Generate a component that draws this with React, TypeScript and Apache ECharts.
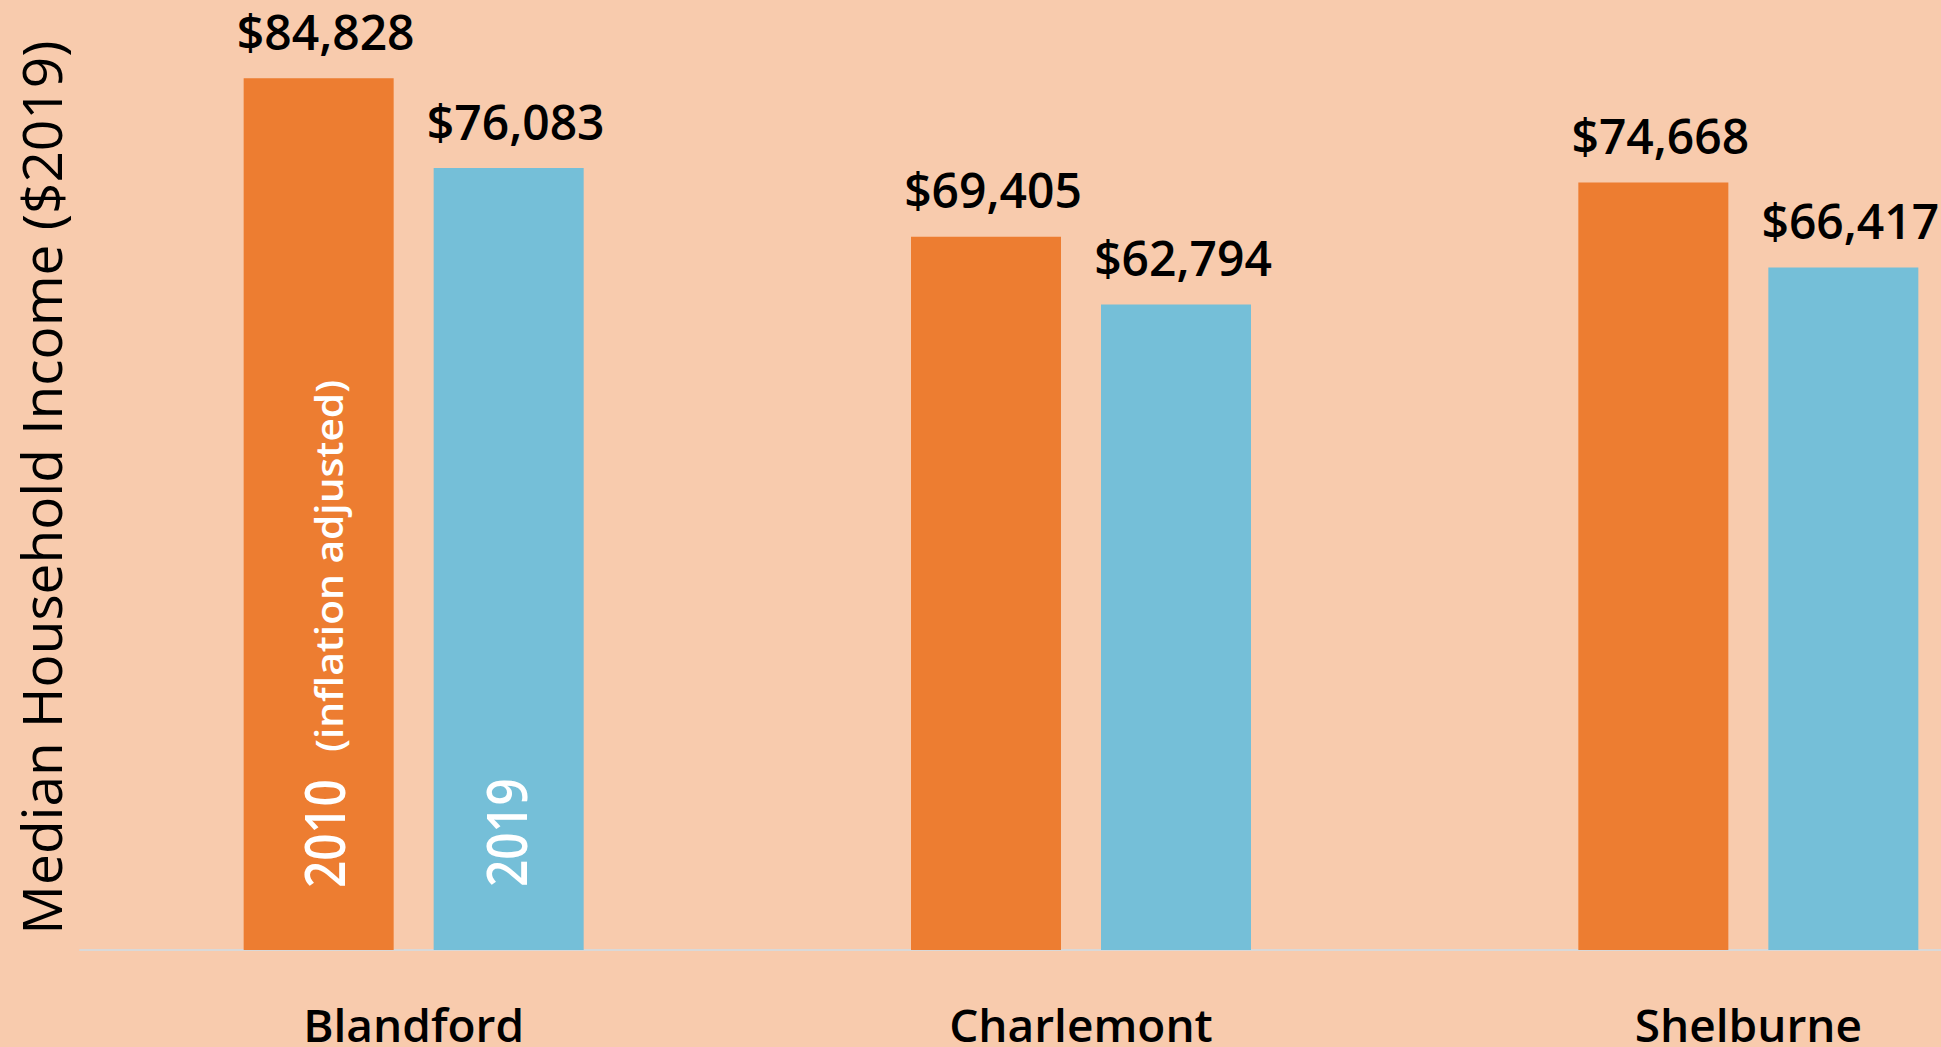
import React, { useEffect, useRef } from "react";
import * as echarts from "echarts";

const categories = ["Blandford", "Charlemont", "Shelburne"];
const income2010 = [84828, 69405, 74668];
const income2019 = [76083, 62794, 66417];
const seriesNames = ["2010 (inflation adjusted)", "2019"];
const yAxisTitle = "Median Household Income ($2019)";

const BG = "#F8CBAD";
const ORANGE = "#ED7D31";
const BLUE = "#75BFD8";
const FONT = "'Open Sans', 'Noto Sans', sans-serif";

const VIEW_W = 1941;
const VIEW_H = 1047;
const GRID_LEFT = 80;
const GRID_WIDTH = 2002; // plot area runs past the right edge (cropped like the reference)
const GRID_TOP = 25;
const GRID_BOTTOM = 96;
const BAR_W = 150;
const BAR_GAP = 40;

const fmt = (v: number) => "$" + v.toLocaleString("en-US");

export default function App() {
  const ref = useRef<HTMLDivElement>(null);
  useEffect(() => {
    if (!ref.current) return;
    const chart = echarts.init(ref.current, null, { renderer: "svg" });
    const valueLabel = {
      show: true,
      position: "top" as const,
      distance: 23,
      offset: [7, 0],
      fontSize: 48,
      fontFamily: FONT,
      fontWeight: 600,
      color: "#000",
      formatter: (p: any) => fmt(p.value),
    };
    const catW = GRID_WIDTH / categories.length;
    const cx = GRID_LEFT + catW / 2;
    const baseY = VIEW_H - GRID_BOTTOM;
    const c1 = cx - (BAR_W + BAR_GAP) / 2;
    const c2 = cx + (BAR_W + BAR_GAP) / 2;
    const inBar = (text: string, x: number, y: number, size: number, sx: number) => ({
      type: "text",
      x,
      y,
      rotation: Math.PI / 2,
      scaleX: sx,
      z: 100,
      style: {
        text,
        fill: "#ffffff",
        fontSize: size,
        fontWeight: 600,
        fontFamily: FONT,
        textAlign: "left",
        textVerticalAlign: "middle",
      },
    });
    chart.setOption({
      animation: false,
      backgroundColor: BG,
      grid: { left: GRID_LEFT, right: 0, top: GRID_TOP, bottom: GRID_BOTTOM, containLabel: false },
      xAxis: {
        type: "category",
        data: categories,
        axisLine: { show: true, lineStyle: { color: "#D9D9D9", width: 2 } },
        axisTick: { show: false },
        axisLabel: {
          fontSize: 46,
          fontFamily: FONT,
          fontWeight: 600,
          color: "#000",
          margin: 51,
        },
      },
      yAxis: {
        type: "value",
        min: 0,
        max: 90000,
        axisLine: { show: false },
        axisTick: { show: false },
        axisLabel: { show: false },
        splitLine: { show: false },
        name: yAxisTitle,
        nameLocation: "middle",
        nameRotate: 90,
        nameGap: 12,
        nameTextStyle: { fontSize: 55, fontFamily: FONT, color: "#000" },
      },
      series: [
        {
          name: seriesNames[0],
          type: "bar",
          data: income2010,
          barWidth: BAR_W,
          barGap: (BAR_GAP / BAR_W) * 100 + "%",
          itemStyle: { color: ORANGE },
          label: valueLabel,
        },
        {
          name: seriesNames[1],
          type: "bar",
          data: income2019,
          barWidth: BAR_W,
          barGap: (BAR_GAP / BAR_W) * 100 + "%",
          itemStyle: { color: BLUE },
          label: valueLabel,
        },
      ],
      graphic: [
        inBar("2010", c1 + 4, baseY - 63, 56, 0.85),
        inBar("(inflation adjusted)", c1 + 10, baseY - 199, 37, 1.1),
        inBar("2019", c2 - 4, baseY - 64, 56, 0.85),
      ],
    });
    return () => chart.dispose();
  }, []);
  return (
    <div
      style={{
        position: "fixed",
        left: 0,
        top: 0,
        width: VIEW_W,
        height: VIEW_H,
        overflow: "hidden",
        background: BG,
      }}
    >
      <div ref={ref} style={{ width: GRID_LEFT + GRID_WIDTH, height: VIEW_H }} />
    </div>
  );
}
